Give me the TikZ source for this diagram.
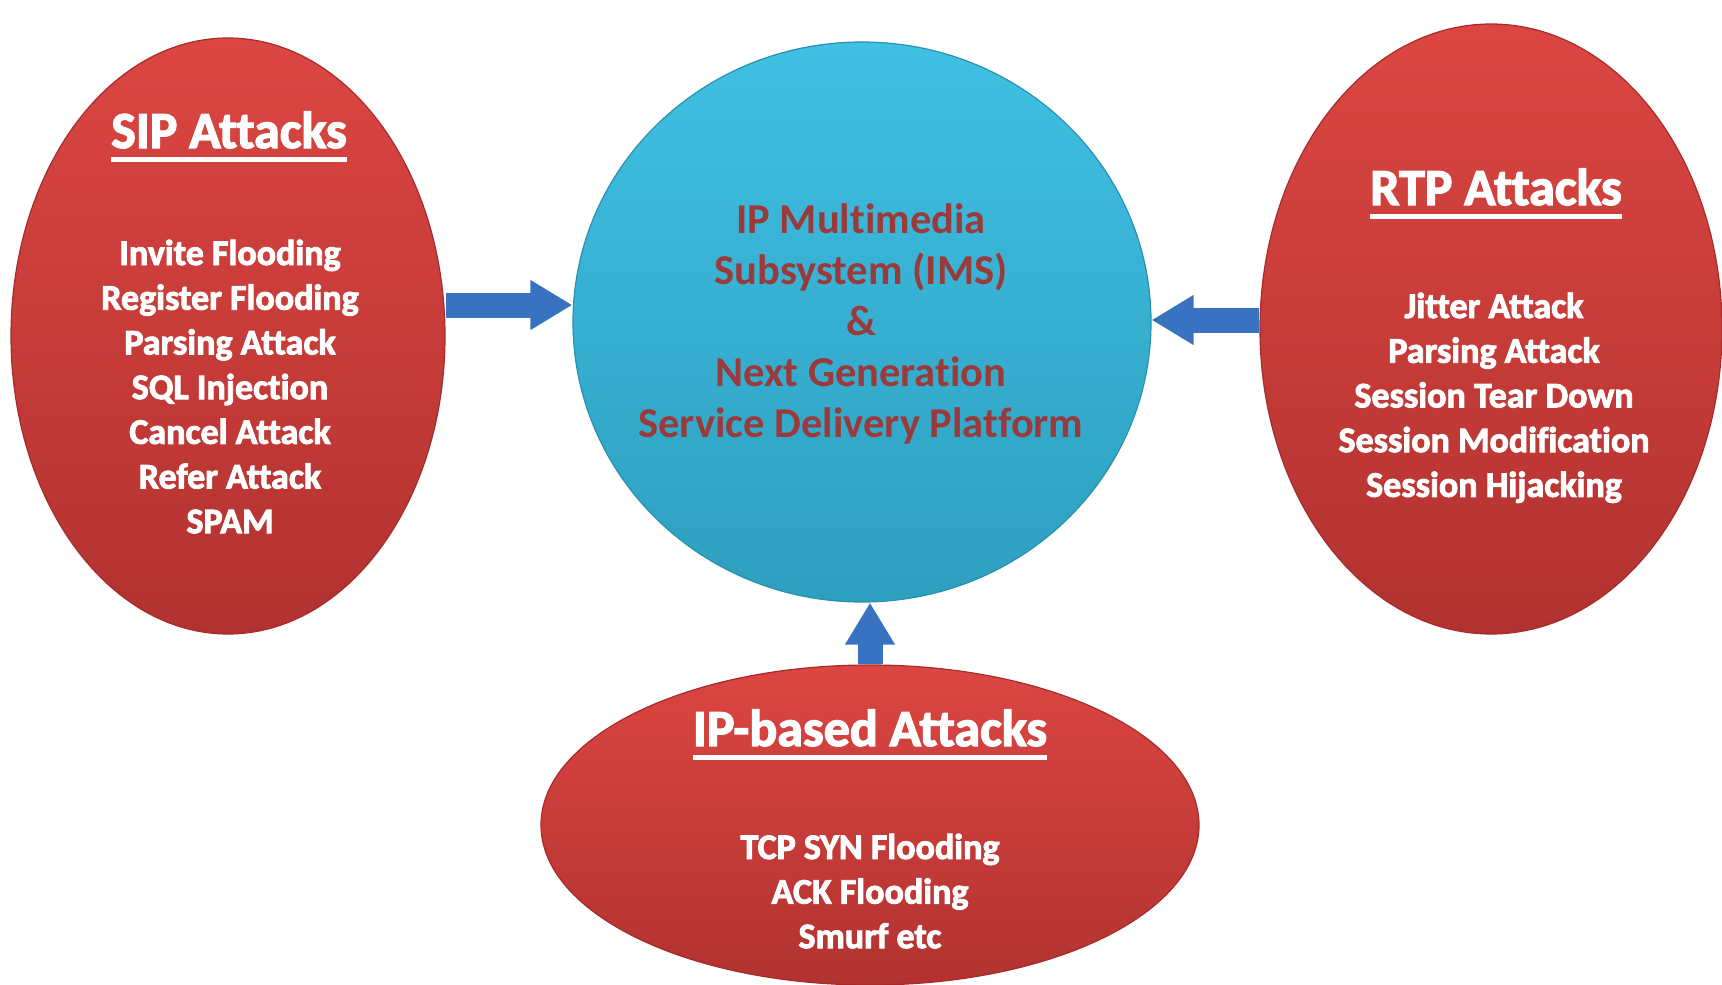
\documentclass[tikz,border=0pt]{standalone}
\usepackage{fontspec}
\setmainfont{Carlito}[Ligatures=NoCommon]
\newfontfamily\heavyfont{Carlito}[Ligatures=NoCommon, BoldFeatures={FakeBold=2.5}]
\usetikzlibrary{shapes.geometric,arrows.meta}

\definecolor{redtop}{HTML}{DC4642}
\definecolor{redbot}{HTML}{B13230}
\definecolor{redrim}{HTML}{A52C2A}
\definecolor{cyantop}{HTML}{40C0E3}
\definecolor{cyanbot}{HTML}{2E9FBF}
\definecolor{cyanrim}{HTML}{2891AE}
\definecolor{hubred}{HTML}{9B3A3A}
\definecolor{arrowblue}{HTML}{3A72C2}

\begin{document}
\begin{tikzpicture}[x=1pt,y=-1pt,
  attack/.style={ellipse, inner sep=0pt, top color=redtop, bottom color=redbot,
                 draw=redrim, line width=1.2pt},
  hub/.style={ellipse, inner sep=0pt, top color=cyantop, bottom color=cyanbot,
              draw=cyanrim, line width=1.2pt},
  heading/.style={text=white, inner sep=0pt, anchor=base,
                  font=\heavyfont\fontsize{52}{60}\selectfont\bfseries},
  rule/.style={white, line width=5pt},
  item/.style={text=white, inner sep=0pt, anchor=base,
               font=\heavyfont\fontsize{36}{44}\selectfont\bfseries},
  hubline/.style={text=hubred, inner sep=0pt, anchor=base,
                  font=\fontsize{42.5}{50}\selectfont\bfseries},
  blockarrow/.style={draw=arrowblue, line width=25pt,
                     -{Triangle[width=47pt,length=42pt]}}
]
\useasboundingbox (0,0) rectangle (1722,985);

% the four bubbles
\node[attack, minimum width=434pt, minimum height=596pt] (sip) at (228,336) {};
\node[attack, minimum width=462pt, minimum height=610pt] (rtp) at (1491,329) {};
\node[attack, minimum width=658pt, minimum height=320pt] (ipb) at (870,825) {};
\node[hub, minimum width=578pt, minimum height=560pt] (ims) at (862,322) {};

% block arrows towards the platform
\coordinate (ly) at (0,305);
\coordinate (ry) at (0,320);
\coordinate (ux) at (870,0);
\draw[blockarrow] (sip.east |- ly) -- (ims.west |- ly);
\draw[blockarrow] (rtp.west |- ry) -- (ims.east |- ry);
\draw[blockarrow] (ipb.north -| ux) -- (ims.south -| ux);

% platform text
\node[hubline] (h1) at (861,233) {IP Multimedia};
\node[hubline] (h2) at (861,284) {Subsystem (IMS)};
\node[hubline] (h3) at (861,335) {\&};
\node[hubline] (h4) at (861,386) {Next Generation};
\node[hubline] (h5) at (861,437) {Service Delivery Platform};

% SIP attacks
\node[heading] (sipt) at (229,148) {SIP Attacks};
\draw[rule] ([yshift=-11pt]sipt.base west) -- ([yshift=-11pt]sipt.base east);
\foreach \txt [count=\i from 0] in {Invite Flooding, Register Flooding,
    Parsing Attack, SQL Injection, Cancel Attack, Refer Attack, SPAM}
  \node[item] (sip\i) at (230,265+44.7*\i) {\txt};

% RTP attacks
\node[heading] (rtpt) at (1496,205) {RTP Attacks};
\draw[rule] ([yshift=-11pt]rtpt.base west) -- ([yshift=-11pt]rtpt.base east);
\foreach \txt [count=\i from 0] in {Jitter Attack, Parsing Attack,
    Session Tear Down, Session Modification, Session Hijacking}
  \node[item] (rtp\i) at (1494,318+44.7*\i) {\txt};

% IP-based attacks
\node[heading] (ipbt) at (870,746) {IP-based Attacks};
\draw[rule] ([yshift=-11pt]ipbt.base west) -- ([yshift=-11pt]ipbt.base east);
\foreach \txt [count=\i from 0] in {TCP SYN Flooding, ACK Flooding, Smurf etc}
  \node[item] (ipb\i) at (870,859+44.6*\i) {\txt};
\end{tikzpicture}
\end{document}
